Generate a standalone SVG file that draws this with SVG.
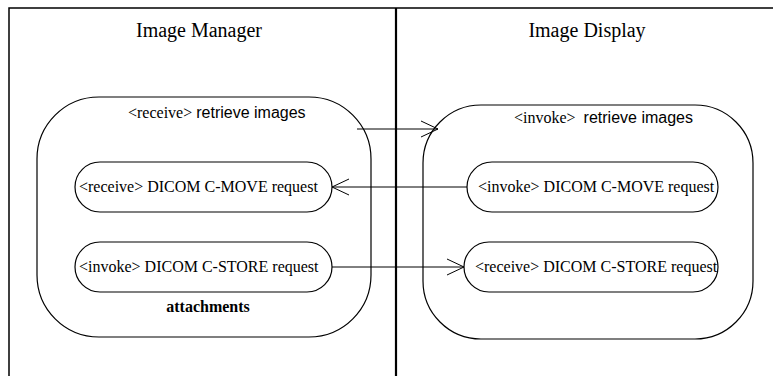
<svg xmlns="http://www.w3.org/2000/svg" width="773" height="376" viewBox="0 0 773 376">
<defs>
<style>
.frame{stroke:#000;fill:none;stroke-width:1.5}
.div{stroke:#000;fill:none;stroke-width:2.2}
.box{stroke:#000;fill:#fff;stroke-width:1.2}
.conn{stroke:#000;fill:none;stroke-width:1}
.title{font-family:"Liberation Serif",serif;font-size:20px;text-anchor:middle}
.serif{font-family:"Liberation Serif",serif;font-size:16px}
.sans{font-family:"Liberation Sans",sans-serif;font-size:16px}
.bold{font-family:"Liberation Serif",serif;font-size:16px;font-weight:bold;text-anchor:middle}
</style>
<marker id="open" markerUnits="userSpaceOnUse" markerWidth="20" markerHeight="18" refX="17" refY="8" orient="auto" overflow="visible">
<polyline points="0,0 17,8 0,16" fill="none" stroke="#000" stroke-width="1"/>
</marker>
</defs>
<g id="frame">
<polyline class="frame" points="9,376 9,8 773,8"/>
<line class="div" x1="396" y1="8" x2="396" y2="376"/>
<text class="title" x="199" y="37">Image Manager</text>
<text class="title" x="587" y="37">Image Display</text>
</g>
<g id="im-retrieve">
<rect class="box" x="37" y="97" width="334" height="240" rx="62" ry="62"/>
<text x="128" y="118"><tspan class="serif">&lt;receive&gt; </tspan><tspan class="sans">retrieve images</tspan></text>
<text class="bold" x="208" y="312">attachments</text>
</g>
<g id="id-retrieve">
<rect class="box" x="423" y="105" width="330" height="234" rx="58" ry="58"/>
<text x="514" y="123"><tspan class="serif">&lt;invoke&gt;  </tspan><tspan class="sans" dx="4">retrieve images</tspan></text>
</g>
<g id="im-move">
<rect class="box" x="75" y="162" width="257" height="50" rx="25" ry="25"/>
<text class="serif" x="79" y="192">&lt;receive&gt; DICOM C-MOVE request</text>
</g>
<g id="im-store">
<rect class="box" x="75" y="242" width="257" height="50" rx="25" ry="25"/>
<text class="serif" x="79" y="272">&lt;invoke&gt; DICOM C-STORE request</text>
</g>
<g id="id-move">
<rect class="box" x="467" y="162" width="251" height="50" rx="25" ry="25"/>
<text class="serif" x="478" y="192">&lt;invoke&gt; DICOM C-MOVE request</text>
</g>
<g id="id-store">
<rect class="box" x="464" y="242" width="254" height="50" rx="25" ry="25"/>
<text class="serif" x="475" y="272">&lt;receive&gt; DICOM C-STORE request</text>
</g>
<g id="connectors">
<line class="conn" x1="357" y1="129" x2="438" y2="129" marker-end="url(#open)"/>
<line class="conn" x1="467" y1="187" x2="332" y2="187" marker-end="url(#open)"/>
<line class="conn" x1="332" y1="267" x2="464" y2="267" marker-end="url(#open)"/>
</g>
</svg>
